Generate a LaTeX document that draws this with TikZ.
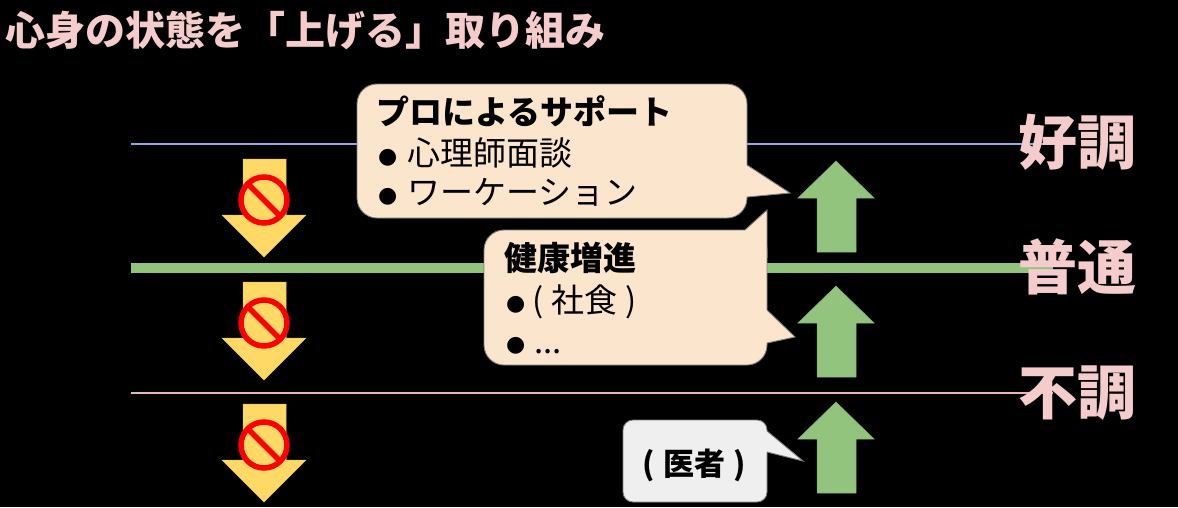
\documentclass[tikz,border=0pt]{standalone}
\usepackage{fontspec}
\setmainfont{Noto Sans CJK JP}
\newfontfamily\bulfont{DejaVu Sans}
\definecolor{pinkt}{HTML}{F4CCCC}
\definecolor{lineblue}{HTML}{8EA9DB}
\definecolor{linepink}{HTML}{E6B8AF}
\definecolor{greenc}{HTML}{93C47D}
\definecolor{yellowc}{HTML}{FFD966}
\definecolor{peach}{HTML}{FCE5CD}
\definecolor{lgray}{HTML}{EFEFEF}
\definecolor{bord}{HTML}{7F7F7F}
\newcommand\bulA[1]{\makebox[#1][l]{\raisebox{2pt}{\bulfont\fontsize{22pt}{22pt}\selectfont ●}}}
\begin{document}
\begin{tikzpicture}[x=1pt,y=-1pt,
  txt/.style={inner sep=0pt,anchor=base west,text=black,font=\fontsize{33pt}{33pt}\selectfont},
  txtb/.style={txt,font=\fontsize{33pt}{33pt}\selectfont\bfseries},
  doctxt/.style={inner sep=0pt,anchor=base,text=black,font=\fontsize{31pt}{31pt}\selectfont\bfseries},
  titletxt/.style={inner sep=0pt,anchor=base west,text=pinkt,font=\fontsize{40pt}{40pt}\selectfont\bfseries},
  lab/.style={inner sep=0pt,anchor=base west,text=pinkt,font=\fontsize{59pt}{59pt}\selectfont\bfseries},
  yarrow/.style={fill=yellowc,draw=yellowc!90!black,line width=0.5pt},
  garrow/.style={fill=greenc,draw=greenc!90!black,line width=0.5pt},
  nosign/.style={draw=red,line width=5.5pt},
  peachbox/.style={fill=peach,draw=bord,line width=0.9pt},
  graybox/.style={fill=lgray,draw=bord,line width=0.9pt},
  edge/.style={draw=bord,line width=0.9pt,line join=miter}]
\useasboundingbox (0,0) rectangle (1178,507);
\fill[black] (0,0) rectangle (1178,507);

% level lines
\draw[lineblue,line width=1.5pt] (131,144) -- (1053,144);
\draw[greenc,line width=10pt] (131,268) -- (1053,268);
\draw[linepink,line width=1.5pt] (131,393) -- (1053,393);

% yellow down arrows with no-entry signs
\foreach \t in {159,282,404}{
  \filldraw[yarrow] (243,\t) -- (286,\t) -- (286,{\t+56}) -- (306,{\t+56}) -- (264,{\t+98}) -- (222,{\t+56}) -- (243,{\t+56}) -- cycle;
  \draw[nosign] (264,{\t+41}) circle[radius=23];
  \draw[nosign] ({264-16.3},{\t+41-16.3}) -- ({264+16.3},{\t+41+16.3});
}

% green up arrows
\foreach \t in {161,286,402}{
  \filldraw[garrow] (836,\t) -- (874,{\t+37}) -- (856,{\t+37}) -- (856,{\t+91}) -- (817,{\t+91}) -- (817,{\t+37}) -- (798,{\t+37}) -- cycle;
}

% callout 1
\filldraw[peachbox,rounded corners=20pt] (357,84) rectangle (747,218);
\fill[peach] (740,165) -- (747,165) -- (790,193) -- (747,197) -- (740,197) -- cycle;
\draw[edge] (747,165) -- (790,193) -- (747,197);

% callout 2
\filldraw[peachbox,rounded corners=20pt] (484,230) rectangle (767,365);
\fill[peach] (745,230) -- (767,210) -- (767,258) -- (745,258) -- cycle;
\draw[edge] (745,230) -- (767,210) -- (767,258);
\fill[peach] (760,310) -- (767,310) -- (795,337) -- (767,343) -- (760,343) -- cycle;
\draw[edge] (767,310) -- (795,337) -- (767,343);

% callout 3
\filldraw[graybox,rounded corners=10pt] (623,420) rectangle (767,502);
\fill[lgray] (760,431) -- (767,431) -- (803,461) -- (767,452) -- (760,452) -- cycle;
\draw[edge] (767,431) -- (803,461) -- (767,452);

% texts
\node[titletxt] (title) at (5,45) {心身の状態を「上げる」取り組み};

\node[txtb] (pro) at (376,124) {プロによるサポート};
\node[txt] (pro1) at (378,165) {\bulA{29pt}心理師面談};
\node[txt] (pro2) at (378,204) {\bulA{29pt}ワーケーション};

\node[txtb] (ken) at (504,270) {健康増進};
\node[txt] (ken1) at (506,312) {\bulA{26pt}(\hspace{8pt}社食\hspace{8pt})};
\node[txt] (ken2) at (506,353) {\bulA{28pt}...};

\node[doctxt] (doc) at (694,475) {(\hspace{8pt}医者\hspace{8pt})};

\node[lab] (good) at (1018,164) {好調};
\node[lab] (norm) at (1018,289) {普通};
\node[lab] (bad) at (1018,414) {不調};
\end{tikzpicture}
\end{document}
